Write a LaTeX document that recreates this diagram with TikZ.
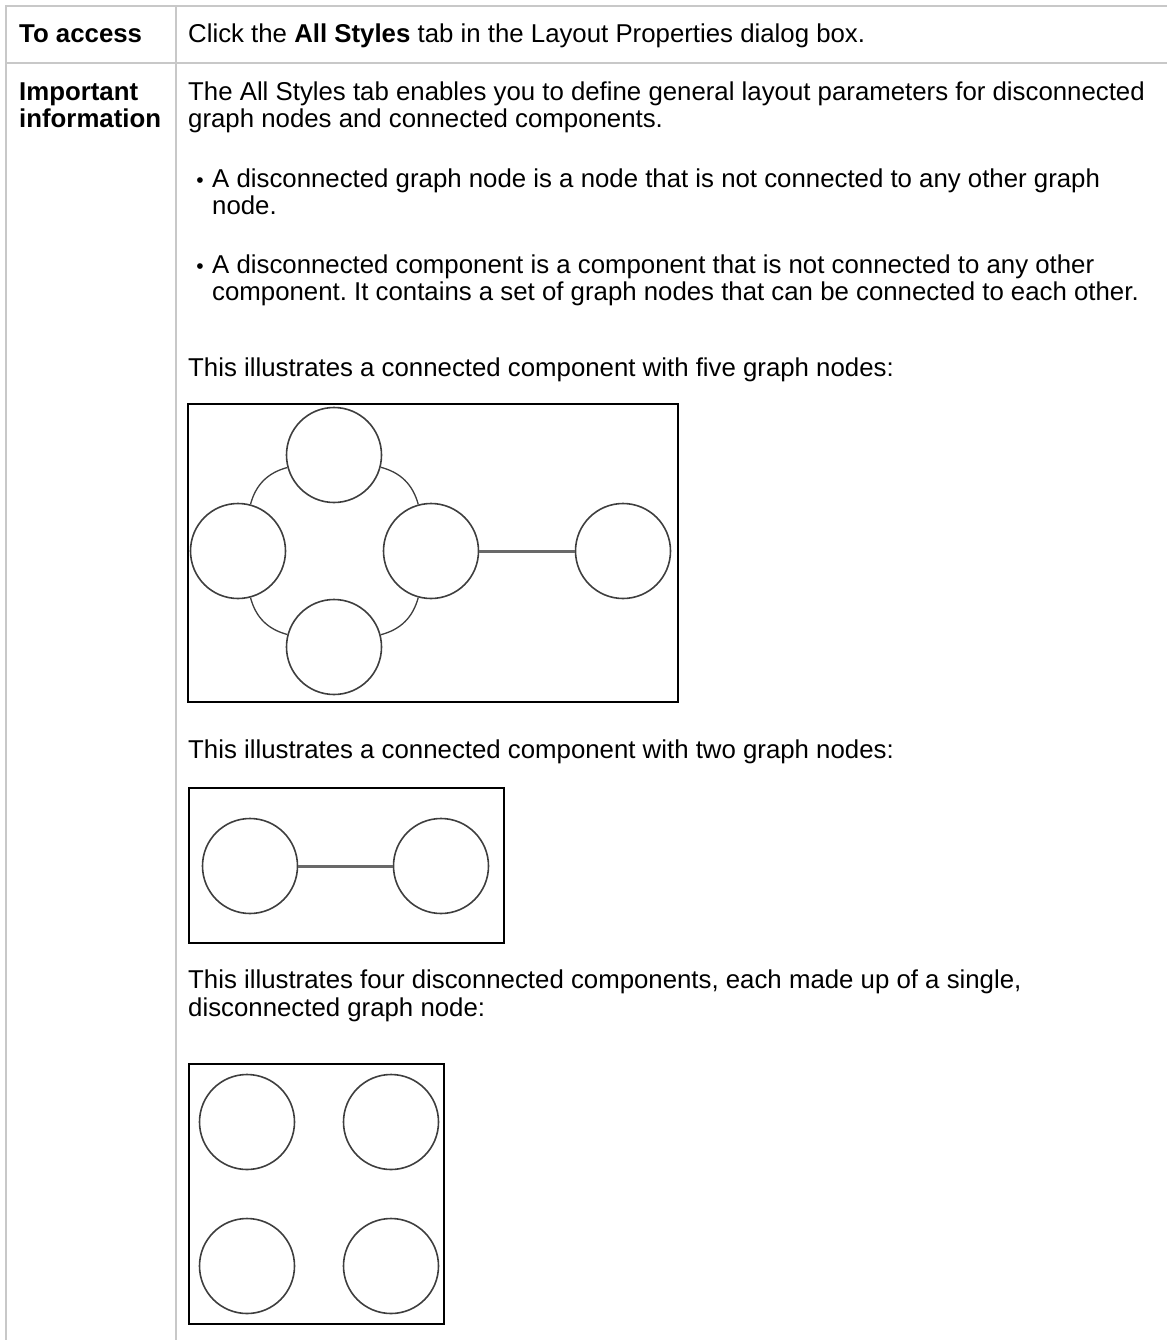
\documentclass[tikz,border=0pt]{standalone}
\usepackage{fontspec}
\setmainfont{Liberation Sans}
\frenchspacing
\definecolor{rulegray}{RGB}{200,200,200}
\definecolor{circgray}{RGB}{62,62,62}
\definecolor{bargray}{RGB}{105,105,105}
\tikzset{
  txt/.style={anchor=base west, inner sep=0pt, font=\fontsize{25.8}{27}\selectfont},
  hdr/.style={txt, font=\fontsize{25.8}{27}\selectfont\bfseries},
  dot/.style={anchor=base, inner sep=0pt, font=\fontsize{21}{22}\selectfont},
  gnode/.style={circle, draw=circgray, line width=1.6pt, minimum size=95pt, inner sep=0pt},
  ring/.style={draw=circgray, line width=1.3pt},
  bar/.style={draw=bargray, line width=3pt},
  frame/.style={draw=black, line width=2pt}
}
\begin{document}
\begin{tikzpicture}[x=1pt, y=-1pt]
        \useasboundingbox (0,0) rectangle (1167,1340);
        \draw[rulegray, line width=2pt] (6,1340) -- (6,6) -- (1167,6);
        \draw[rulegray, line width=2pt] (6,63) -- (1167,63);
        \draw[rulegray, line width=2pt] (176,6) -- (176,1340);

        \node[hdr] (access) at (19,43) {To access};
        \node[txt] (click) at (188,43) {Click the \textbf{All Styles} tab in the Layout Properties dialog box.};
        \node[hdr] (imp) at (19,101) {Important};
        \node[hdr] (info) at (19,128) {information};
        \node[txt] (intro1) at (188,101) {The All Styles tab enables you to define general layout parameters for disconnected};
        \node[txt] (intro2) at (188,128) {graph nodes and connected components.};
        \node[dot] (bul1) at (200,188) {•};
        \node[txt] (item1a) at (212,188) {A disconnected graph node is a node that is not connected to any other graph};
        \node[txt] (item1b) at (212,215) {node.};
        \node[dot] (bul2) at (200,273) {•};
        \node[txt] (item2a) at (212,273) {A disconnected component is a component that is not connected to any other};
        \node[txt] (item2b) at (212,300) {component. It contains a set of graph nodes that can be connected to each other.};

        \node[txt] (five) at (188,376) {This illustrates a connected component with five graph nodes:};
        \draw[frame] (188,404) rectangle (678,702);
        \node[gnode] (ftop) at (334,455) {};
        \node[gnode] (fleft) at (238,551) {};
        \node[gnode] (fbot) at (334,647) {};
        \node[gnode] (fright) at (431,551) {};
        \node[gnode] (fout) at (623,551) {};
        \draw[ring] (ftop) to[bend right=30] (fleft);
        \draw[ring] (fleft) to[bend right=30] (fbot);
        \draw[ring] (fbot) to[bend right=30] (fright);
        \draw[ring] (fright) to[bend right=30] (ftop);
        \draw[bar] (fright) -- (fout);

        \node[txt] (two) at (188,758) {This illustrates a connected component with two graph nodes:};
        \draw[frame] (189,788) rectangle (504,943);
        \node[gnode] (tleft) at (250,866) {};
        \node[gnode] (tright) at (441,866) {};
        \draw[bar] (tleft) -- (tright);

        \node[txt] (four1) at (188,988) {This illustrates four disconnected components, each made up of a single,};
        \node[txt] (four2) at (188,1016) {disconnected graph node:};
        \draw[frame] (189,1064) rectangle (444,1324);
        \node[gnode] (q1) at (247,1122) {};
        \node[gnode] (q2) at (391,1122) {};
        \node[gnode] (q3) at (247,1266) {};
        \node[gnode] (q4) at (391,1266) {};
    \end{tikzpicture}
\end{document}
